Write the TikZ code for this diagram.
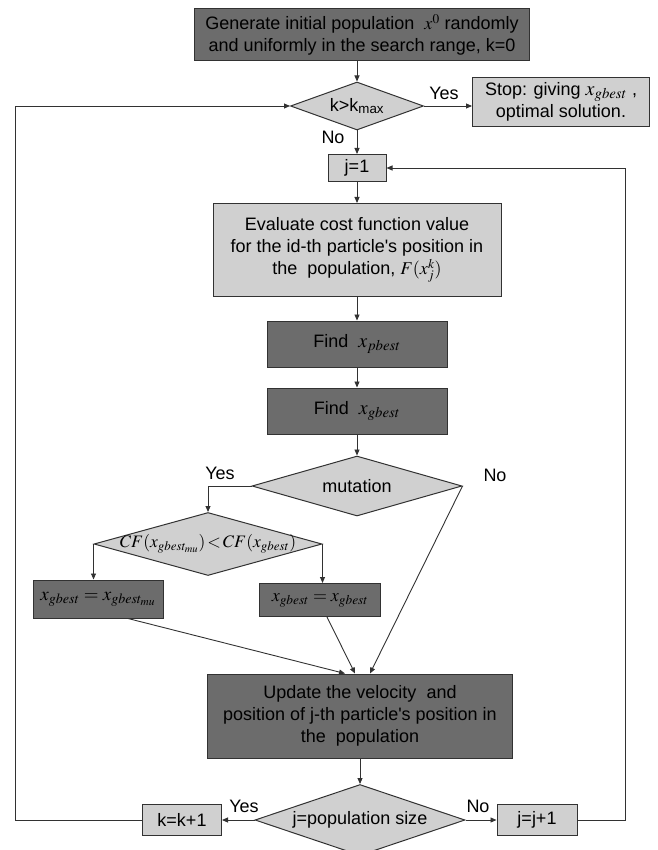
\documentclass[tikz,border=0pt]{standalone}
\usepackage{mathptmx}
\usepackage[no-math]{fontspec}
\setmainfont{Liberation Sans}
\usetikzlibrary{shapes.geometric,arrows.meta}
\definecolor{darkfill}{RGB}{108,108,108}
\definecolor{lightfill}{RGB}{208,208,208}
\definecolor{edgecol}{RGB}{50,50,50}
\tikzset{
  base/.style={draw=edgecol, line width=1pt, align=center, inner sep=2pt, font=\fontsize{18}{22}\selectfont},
  darkbox/.style={base, rectangle, fill=darkfill},
  lightbox/.style={base, rectangle, fill=lightfill},
  dia/.style={draw=edgecol, line width=1pt, diamond, fill=lightfill, inner sep=0pt},
  arr/.style={draw=edgecol, line width=0.9pt, -{Triangle[length=6pt,width=5pt]}},
  lbl/.style={font=\fontsize{18}{22}\selectfont, inner sep=0pt},
  mathlbl/.style={font=\fontsize{17.5}{22}\selectfont, inner sep=0pt},
}
\begin{document}
\begin{tikzpicture}[x=1pt,y=-1pt]
\useasboundingbox (0,0) rectangle (657,850);

\node[darkbox, minimum width=335pt, minimum height=52pt] (top) at (362,35)
  {Generate initial population \ $x^{0}$ randomly\\and uniformly in the search range, k=0};
\node[dia, minimum width=133pt, minimum height=48pt, label={[lbl]center:k>k\textsubscript{max}}] (kmax) at (357,106) {};
\node[lightbox, minimum width=177pt, minimum height=49pt] (stop) at (561,102)
  {Stop: giving {\fontsize{20}{22}\selectfont$x_{gbest}$} ,\\optimal solution.};
\node[lightbox, minimum width=58pt, minimum height=27pt] (j1) at (357,168) {j=1};
\node[lightbox, minimum width=288pt, minimum height=93pt] (eval) at (357,250)
  {Evaluate cost function value\\for the id-th particle\textquotesingle s position in\\the \ population, $F(x_j^k)$};
\node[darkbox, minimum width=180pt, minimum height=46pt] (pbest) at (357,344)
  {Find \ {\fontsize{20}{22}\selectfont$x_{pbest}$}};
\node[darkbox, minimum width=180pt, minimum height=46pt] (gbest) at (357,411)
  {Find \ {\fontsize{20}{22}\selectfont$x_{gbest}$}};
\node[dia, minimum width=210pt, minimum height=60pt, label={[lbl]center:mutation}] (mut) at (357,486) {};
\node[dia, minimum width=228pt, minimum height=63pt,
  label={[mathlbl]center:$CF(x_{gbest_{mu}})\!<\!CF(x_{gbest})$}] (cf) at (208,544) {};
\node[darkbox, minimum width=130pt, minimum height=38pt, font=\fontsize{19}{24}\selectfont] (lbox) at (98,599)
  {$x_{gbest} = x_{gbest_{mu}}$};
\node[darkbox, minimum width=121pt, minimum height=33pt] (rbox) at (320,600)
  {$x_{gbest} = x_{gbest}$};
\node[darkbox, minimum width=305pt, minimum height=84pt] (upd) at (360,716)
  {Update the velocity \ and\\position of j-th particle\textquotesingle s position in\\the \ population};
\node[dia, minimum width=210pt, minimum height=71pt, label={[lbl]center:j=population size}] (pop) at (360,820) {};
\node[lightbox, minimum width=79pt, minimum height=31pt] (kk) at (182,820) {k=k+1};
\node[lightbox, minimum width=80pt, minimum height=31pt] (jj) at (537,820) {j=j+1};

\coordinate (lx) at (15,0);
\coordinate (rx) at (625,0);

\draw[arr] (kmax.north |- top.south) -- (kmax.north);
\draw[arr] (kmax.east) -- (kmax.east -| stop.west);
\draw[arr] (kmax.south) -- (j1.north);
\draw[arr] (j1.south) -- (eval.north);
\draw[arr] (eval.south) -- (pbest.north);
\draw[arr] (pbest.south) -- (gbest.north);
\draw[arr] (gbest.south) -- (mut.north);
\draw[arr] (mut.west) -| (cf.north);
\draw[arr] (cf.west) -- (cf.west |- lbox.north);
\draw[arr] (cf.east) -- (cf.east |- rbox.north);
\draw[arr] ([xshift=30pt]lbox.south) -- ([xshift=-15pt]upd.north);
\draw[arr] ([xshift=7pt]rbox.south) -- ([xshift=-5pt]upd.north);
\draw[arr] (mut.east) -- ([xshift=10pt]upd.north);
\draw[arr] (upd.south) -- (pop.north);
\draw[arr] (pop.west) -- (kk.east);
\draw[arr] (pop.east) -- (jj.west);
\draw[arr] (kk.west) -- (kk.west -| lx) |- (kmax.west);
\draw[arr] (jj.east) -- (jj.east -| rx) |- (j1.east);

\node[lbl] (y1) at (444,93) {Yes};
\node[lbl] (n1) at (333,137) {No};
\node[lbl] (y2) at (220,473) {Yes};
\node[lbl] (n2) at (495,475) {No};
\node[lbl] (y3) at (244,806) {Yes};
\node[lbl] (n3) at (478,806) {No};
\end{tikzpicture}
\end{document}
